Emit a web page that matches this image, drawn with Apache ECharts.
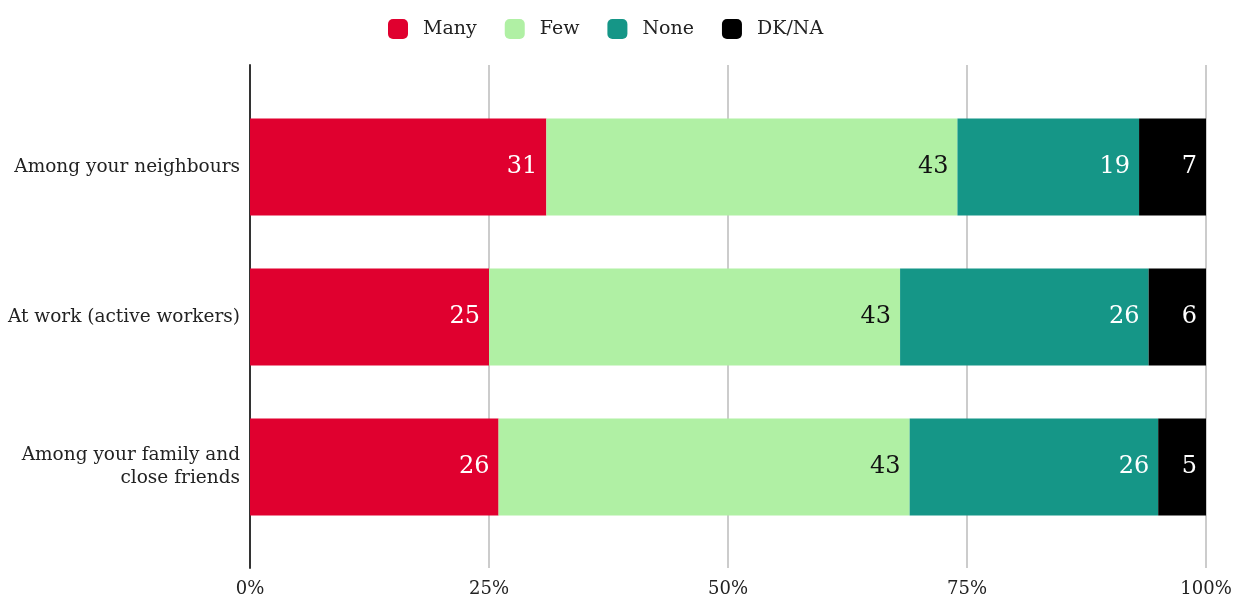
<!DOCTYPE html>
<html>
<head>
<meta charset="utf-8">
<script src="https://cdn.jsdelivr.net/npm/echarts@6/dist/echarts.min.js"></script>
<style>
  html, body { margin: 0; padding: 0; background: #fff; }
  #chartBox { width: 1235px; height: 599px; }
</style>
</head>
<body>
<div id="chartBox"></div>
<script>
// categories, top to bottom
var categories = ['Among your neighbours', 'At work (active workers)', 'Among your family and\nclose friends'];
var many = [31, 25, 26];
var few = [43, 43, 43];
var none = [19, 26, 26];
var dkna = [7, 6, 5];
var tickLabels = ['0%', '25%', '50%', '75%', '100%'];

var font = 'DejaVu Serif';

function barSeries(name, data, color, labelColor) {
    return {
        type: 'bar', name: name, stack: 'all', data: data,
        xAxisIndex: 1, yAxisIndex: 1,
        barWidth: 97,
        itemStyle: {color: color},
        label: {
            show: true, position: 'insideRight', distance: 9,
            color: labelColor, fontFamily: font, fontSize: 24
        }
    };
}

var chartBox = echarts.init(document.getElementById('chartBox'));
var option = {
    animation: false,
    textStyle: {fontFamily: font},
    legend: {
        top: 14, left: 383, itemWidth: 20, itemHeight: 20, itemGap: 28,
        icon: 'roundRect',
        textStyle: {fontFamily: font, fontSize: 19, color: '#222', padding: [0, 0, 0, 10]},
        data: ['Many', 'Few', 'None', 'DK/NA']
    },
    grid: [
        // axes and grid lines
        {left: 250, right: 29, top: 65, bottom: 31, containLabel: false},
        // bars
        {left: 250, right: 29, top: 92, bottom: 57, containLabel: false}
    ],
    xAxis: [{
        gridIndex: 0, type: 'value', min: 0, max: 100, interval: 25,
        axisLine: {show: false}, axisTick: {show: false},
        splitLine: {show: true, lineStyle: {color: '#cccccc', width: 2}},
        axisLabel: {
            margin: 12, fontFamily: font, fontSize: 18, color: '#222',
            formatter: function (v) { return tickLabels[v / 25]; }
        }
    }, {
        gridIndex: 1, type: 'value', min: 0, max: 100,
        show: false
    }],
    yAxis: [{
        gridIndex: 0, type: 'category', data: [''],
        axisLine: {show: true, lineStyle: {color: '#333', width: 2}},
        axisTick: {show: false}, axisLabel: {show: false}, splitLine: {show: false}
    }, {
        gridIndex: 1, type: 'category', inverse: true, data: categories,
        axisLine: {show: false}, axisTick: {show: false},
        axisLabel: {margin: 10, fontFamily: font, fontSize: 18.5, color: '#222', align: 'right', lineHeight: 23}
    }],
    series: [
        barSeries('Many', many, '#e0002f', '#ffffff'),
        barSeries('Few', few, '#b0f0a4', '#111111'),
        barSeries('None', none, '#159687', '#ffffff'),
        barSeries('DK/NA', dkna, '#000000', '#ffffff')
    ]
};
chartBox.setOption(option, true);
</script>
</body>
</html>
